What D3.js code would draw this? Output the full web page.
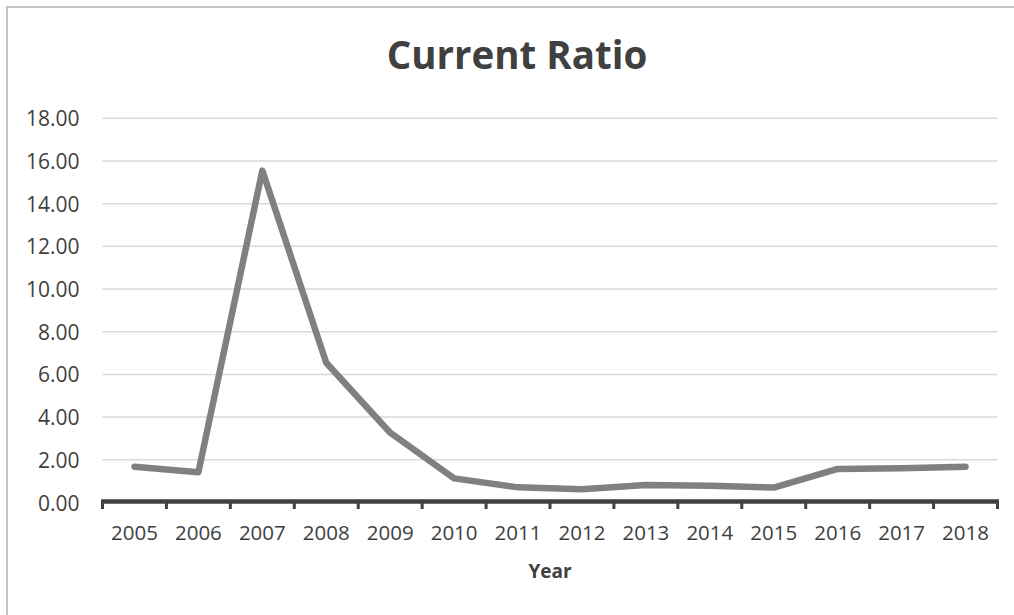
<!DOCTYPE html>
<html>
<head>
<meta charset="utf-8">
<script src="https://cdn.jsdelivr.net/npm/d3@7"></script>
<style>
  html, body { margin: 0; padding: 0; background: #fff; overflow: hidden; }
  svg { display: block; }
</style>
</head>
<body>
<svg id="chart" width="1014" height="615"></svg>
<script>
// Current ratio by year
const years = ["2005","2006","2007","2008","2009","2010","2011","2012","2013","2014","2015","2016","2017","2018"];
const currentRatio = [1.68, 1.42, 15.55, 6.55, 3.27, 1.13, 0.71, 0.62, 0.82, 0.78, 0.70, 1.57, 1.60, 1.68];
const yTicks = [0, 2, 4, 6, 8, 10, 12, 14, 16, 18];
const chartTitle = "Current Ratio";
const xTitle = "Year";

const svg = d3.select("#chart");
const font = "'Open Sans', 'DejaVu Sans', sans-serif";

// chart frame (runs past the right and bottom edges)
svg.append("rect")
  .attr("x", 7).attr("y", 7)
  .attr("width", 1040).attr("height", 640)
  .attr("fill", "#fff")
  .attr("stroke", "#c4c4c4")
  .attr("stroke-width", 2);

const plot = { left: 102.5, right: 997.5, top: 118.3, bottom: 502.5 };

const x = d3.scaleBand().domain(years).range([plot.left, plot.right]);
const y = d3.scaleLinear().domain([0, 18]).range([plot.bottom, plot.top]);

// title
svg.append("text")
  .attr("x", 517).attr("y", 68.5)
  .attr("text-anchor", "middle")
  .attr("font-family", font)
  .attr("font-weight", 700)
  .attr("font-size", 38.5)
  .attr("fill", "#404040")
  .text(chartTitle);

// horizontal gridlines
svg.append("g")
  .selectAll("line")
  .data(yTicks.filter(d => d > 0))
  .join("line")
  .attr("x1", plot.left).attr("x2", plot.right)
  .attr("y1", d => y(d)).attr("y2", d => y(d))
  .attr("stroke", "#d9d9d9")
  .attr("stroke-width", 1.5);

// y axis labels
const yAxis = svg.append("g")
  .attr("transform", `translate(${plot.left - 23},0)`)
  .call(d3.axisLeft(y).tickValues(yTicks).tickFormat(d3.format(".2f")).tickSize(0).tickPadding(0));
yAxis.select(".domain").remove();
yAxis.selectAll("text")
  .attr("font-family", font)
  .attr("font-size", 21)
  .attr("fill", "#404040")
  .attr("dy", "0.36em");

// x axis labels
const xAxis = svg.append("g")
  .attr("transform", `translate(0,${plot.bottom})`)
  .call(d3.axisBottom(x).tickSize(0).tickPadding(0));
xAxis.select(".domain").remove();
xAxis.selectAll("text")
  .attr("font-family", font)
  .attr("font-size", 20.5)
  .attr("fill", "#404040")
  .attr("y", 37)
  .attr("dy", 0);

// category boundary ticks
const boundaries = years.map(d => x(d)).concat([x.range()[1]]);
svg.append("g")
  .selectAll("line")
  .data(boundaries)
  .join("line")
  .attr("x1", d => d).attr("x2", d => d)
  .attr("y1", plot.bottom - 1).attr("y2", plot.bottom + 6.5)
  .attr("stroke", "#404040")
  .attr("stroke-width", 3);

// axis line
svg.append("line")
  .attr("x1", plot.left - 1.5).attr("x2", plot.right + 1.5)
  .attr("y1", plot.bottom - 1).attr("y2", plot.bottom - 1)
  .attr("stroke", "#404040")
  .attr("stroke-width", 4.5);

// axis title
svg.append("text")
  .attr("x", (plot.left + plot.right) / 2)
  .attr("y", 577.5)
  .attr("text-anchor", "middle")
  .attr("font-family", font)
  .attr("font-weight", 700)
  .attr("font-size", 19)
  .attr("fill", "#404040")
  .text(xTitle);

// data line
const line = d3.line()
  .x((d, i) => x(years[i]) + x.bandwidth() / 2)
  .y(d => y(d));

svg.append("path")
  .datum(currentRatio)
  .attr("d", line)
  .attr("fill", "none")
  .attr("stroke", "#808080")
  .attr("stroke-width", 6.5)
  .attr("stroke-linejoin", "round")
  .attr("stroke-linecap", "round");
</script>
</body>
</html>
